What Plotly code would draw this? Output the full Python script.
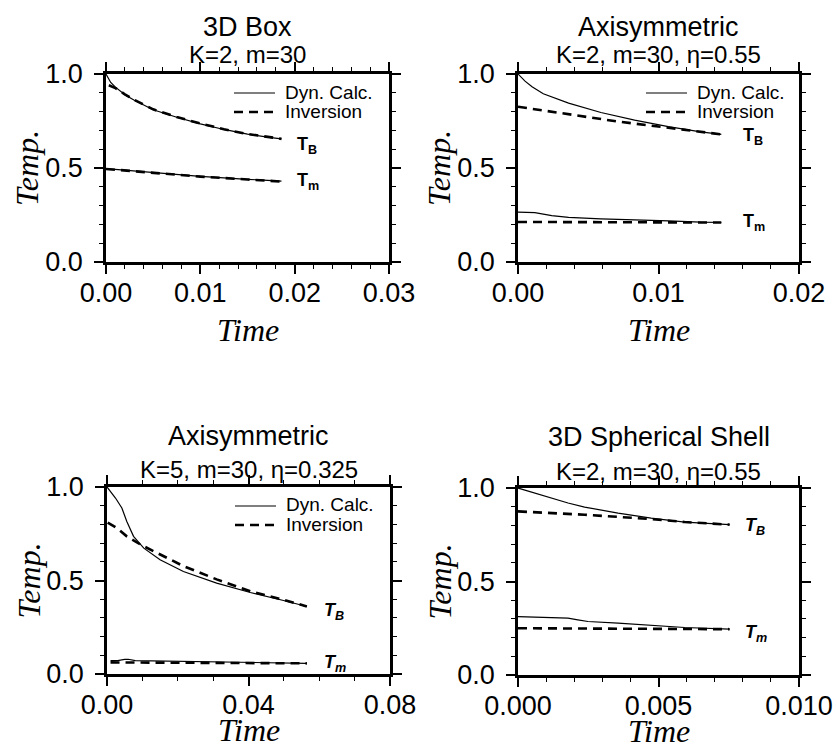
import plotly.graph_objects as go

# ---------------- DATA ----------------
# Panel 1: 3D Box, K=2, m=30
p1_t_dyn_B = [0, 0.0005, 0.001, 0.002, 0.003, 0.005, 0.0075, 0.01, 0.0125, 0.015, 0.0175, 0.0186]
p1_v_dyn_B = [1.0, 0.955, 0.93, 0.89, 0.86, 0.81, 0.77, 0.735, 0.705, 0.68, 0.662, 0.655]
p1_t_inv_B = [0.0003, 0.001, 0.002, 0.003, 0.005, 0.0075, 0.01, 0.0125, 0.015, 0.0175, 0.0186]
p1_v_inv_B = [0.94, 0.925, 0.892, 0.862, 0.812, 0.771, 0.737, 0.706, 0.681, 0.662, 0.655]
p1_t_dyn_m = [0, 0.005, 0.01, 0.015, 0.0186]
p1_v_dyn_m = [0.497, 0.475, 0.455, 0.44, 0.43]
p1_t_inv_m = [0, 0.005, 0.01, 0.015, 0.0186]
p1_v_inv_m = [0.495, 0.473, 0.454, 0.439, 0.428]

# Panel 2: Axisymmetric, K=2, m=30, eta=0.55
p2_t_dyn_B = [0, 0.0005, 0.001, 0.0018, 0.0036, 0.0059, 0.0083, 0.0107, 0.013, 0.01447]
p2_v_dyn_B = [1.0, 0.962, 0.932, 0.895, 0.845, 0.795, 0.755, 0.72, 0.692, 0.679]
p2_t_inv_B = [0, 0.0036, 0.0071, 0.0107, 0.01447]
p2_v_inv_B = [0.826, 0.785, 0.747, 0.714, 0.679]
p2_t_dyn_m = [0, 0.0012, 0.0024, 0.0036, 0.0059, 0.0083, 0.0107, 0.013, 0.01447]
p2_v_dyn_m = [0.265, 0.263, 0.247, 0.237, 0.229, 0.225, 0.219, 0.212, 0.21]
p2_t_inv_m = [0, 0.005, 0.01, 0.01447]
p2_v_inv_m = [0.213, 0.212, 0.211, 0.21]

# Panel 3: Axisymmetric, K=5, m=30, eta=0.325
p3_t_dyn_B = [0, 0.0024, 0.0042, 0.0056, 0.0075, 0.0104, 0.015, 0.0216, 0.031, 0.0405, 0.0499, 0.0565]
p3_v_dyn_B = [1.0, 0.941, 0.888, 0.816, 0.736, 0.673, 0.611, 0.548, 0.486, 0.436, 0.393, 0.361]
p3_t_inv_B = [0.0002, 0.0028, 0.0056, 0.0094, 0.0141, 0.0216, 0.031, 0.0405, 0.0499, 0.0565]
p3_v_inv_B = [0.81, 0.78, 0.736, 0.693, 0.648, 0.577, 0.506, 0.443, 0.397, 0.361]
p3_t_dyn_m = [0.001, 0.003, 0.005, 0.006, 0.008, 0.02, 0.04, 0.0565]
p3_v_dyn_m = [0.071, 0.072, 0.078, 0.079, 0.072, 0.068, 0.062, 0.057]
p3_t_inv_m = [0.001, 0.02, 0.04, 0.0565]
p3_v_inv_m = [0.062, 0.06, 0.058, 0.057]

# Panel 4: 3D Spherical Shell, K=2, m=30, eta=0.55
p4_t_dyn_B = [0, 0.00059, 0.00119, 0.00178, 0.00237, 0.00356, 0.00474, 0.00593, 0.00753]
p4_v_dyn_B = [1.0, 0.973, 0.946, 0.92, 0.898, 0.866, 0.839, 0.818, 0.804]
p4_t_inv_B = [0, 0.00237, 0.00474, 0.00593, 0.00753]
p4_v_inv_B = [0.875, 0.857, 0.834, 0.818, 0.804]
p4_t_dyn_m = [0, 0.00178, 0.00213, 0.00249, 0.00356, 0.00474, 0.00593, 0.00753]
p4_v_dyn_m = [0.3125, 0.304, 0.295, 0.286, 0.277, 0.264, 0.254, 0.245]
p4_t_inv_m = [0, 0.004, 0.00753]
p4_v_inv_m = [0.25, 0.249, 0.245]

titles = ["3D Box", "Axisymmetric", "Axisymmetric", "3D Spherical Shell"]
subtitles = ["K=2, m=30", "K=2, m=30, η=0.55", "K=5, m=30, η=0.325", "K=2, m=30, η=0.55"]
x_ranges = [[0, 0.03], [0, 0.02], [0, 0.08], [0, 0.010]]
x_major = [0.01, 0.01, 0.04, 0.005]
x_minor = [0.002, 0.002, 0.01, 0.001]
x_fmt = [".2f", ".2f", ".2f", ".3f"]
label_TB = ["<b>T<sub>B</sub></b>", "<b>T<sub>B</sub></b>", "<b><i>T<sub>B</sub></i></b>", "<b><i>T<sub>B</sub></i></b>"]
label_Tm = ["<b>T<sub>m</sub></b>", "<b>T<sub>m</sub></b>", "<b><i>T<sub>m</sub></i></b>", "<b><i>T<sub>m</sub></i></b>"]
label_TB_pos = [(0.0200, 0.62), (0.0159, 0.67), (0.0607, 0.334), (0.0080, 0.795)]
label_Tm_pos = [(0.0200, 0.426), (0.0159, 0.208), (0.0607, 0.057), (0.0080, 0.223)]
legend_labels = ["Dyn. Calc.", "Inversion"]
has_legend = [True, True, True, False]

panels = [
    (p1_t_dyn_B, p1_v_dyn_B, p1_t_inv_B, p1_v_inv_B, p1_t_dyn_m, p1_v_dyn_m, p1_t_inv_m, p1_v_inv_m),
    (p2_t_dyn_B, p2_v_dyn_B, p2_t_inv_B, p2_v_inv_B, p2_t_dyn_m, p2_v_dyn_m, p2_t_inv_m, p2_v_inv_m),
    (p3_t_dyn_B, p3_v_dyn_B, p3_t_inv_B, p3_v_inv_B, p3_t_dyn_m, p3_v_dyn_m, p3_t_inv_m, p3_v_inv_m),
    (p4_t_dyn_B, p4_v_dyn_B, p4_t_inv_B, p4_v_inv_B, p4_t_dyn_m, p4_v_dyn_m, p4_t_inv_m, p4_v_inv_m),
]

# ---------------- LAYOUT ----------------
W, H = 837, 751
# pixel boxes (left, right, top, bottom)
boxes = [(106, 389, 74, 262), (518, 799, 74, 262), (107, 390, 487, 674), (518, 799, 488, 675)]
# vertical offsets (px) of title, subtitle (above top) and "Time" (below bottom)
title_off = [47, 47, 51, 51]
sub_off = [19, 19, 17, 17]
time_off = [68, 68, 56, 56]

SANS = "Liberation Sans, Arial, Helvetica, sans-serif"
SERIF = "Liberation Serif, Times New Roman, serif"

SOLID_W = 1.2
DASH_W = 2.6
DASH = "9px,6px"

fig = go.Figure()
layout = dict(
    width=W, height=H, margin=dict(l=0, r=0, t=0, b=0, autoexpand=False),
    paper_bgcolor="white", plot_bgcolor="white",
    font=dict(family=SANS, color="black"),
    showlegend=False,
    annotations=[], shapes=[],
)

solid = dict(color="black", width=SOLID_W)
dashed = dict(color="black", width=DASH_W, dash=DASH)

for i, (p, box) in enumerate(zip(panels, boxes)):
    xa = "x" if i == 0 else f"x{i+1}"
    ya = "y" if i == 0 else f"y{i+1}"
    tdb, vdb, tib, vib, tdm, vdm, tim, vim = p
    common = dict(xaxis=xa, yaxis=ya, mode="lines", hoverinfo="skip", showlegend=False)
    fig.add_trace(go.Scatter(x=tdb, y=vdb, line=solid, name="Dyn. Calc.", **common))
    fig.add_trace(go.Scatter(x=tib, y=vib, line=dashed, name="Inversion", **common))
    fig.add_trace(go.Scatter(x=tdm, y=vdm, line=solid, name="Dyn. Calc.", **common))
    fig.add_trace(go.Scatter(x=tim, y=vim, line=dashed, name="Inversion", **common))

    l, r, t, b = box
    axname_x = "xaxis" if i == 0 else f"xaxis{i+1}"
    axname_y = "yaxis" if i == 0 else f"yaxis{i+1}"
    layout[axname_x] = dict(
        domain=[l / W, r / W], range=x_ranges[i], anchor=ya, automargin=False,
        tick0=0, dtick=x_major[i], tickformat=x_fmt[i],
        ticks="outside", ticklen=9, tickwidth=1.5, tickcolor="black",
        ticklabelstandoff=-4,
        showline=True, linewidth=2.5, linecolor="black", mirror="allticks",
        showgrid=False, zeroline=False,
        tickfont=dict(family=SANS, size=27, color="black"),
        minor=dict(dtick=x_minor[i], tick0=0, ticks="outside", ticklen=4, tickwidth=1.2, tickcolor="black", showgrid=False),
        fixedrange=True,
    )
    layout[axname_y] = dict(
        domain=[1 - b / H, 1 - t / H], range=[0, 1], anchor=xa, automargin=False,
        tick0=0, dtick=0.5, tickformat=".1f",
        ticks="outside", ticklen=9, tickwidth=1.5, tickcolor="black",
        ticklabelstandoff=6,
        showline=True, linewidth=2.5, linecolor="black", mirror="allticks",
        showgrid=False, zeroline=False,
        tickfont=dict(family=SANS, size=27, color="black"),
        minor=dict(dtick=0.1, tick0=0, ticks="outside", ticklen=4, tickwidth=1.2, tickcolor="black", showgrid=False),
        fixedrange=True,
    )
    cx = (l + r) / 2 / W
    # titles
    layout["annotations"].append(dict(
        text=titles[i], x=cx, y=1 - (t - title_off[i]) / H, xref="paper", yref="paper",
        xanchor="center", yanchor="middle", showarrow=False,
        font=dict(family=SANS, size=27, color="black")))
    layout["annotations"].append(dict(
        text=subtitles[i], x=cx, y=1 - (t - sub_off[i]) / H, xref="paper", yref="paper",
        xanchor="center", yanchor="middle", showarrow=False,
        font=dict(family=SANS, size=24, color="black")))
    # axis titles
    layout["annotations"].append(dict(
        text="<i>Time</i>", x=cx, y=1 - (b + time_off[i]) / H, xref="paper", yref="paper",
        xanchor="center", yanchor="middle", showarrow=False,
        font=dict(family=SERIF, size=32, color="black")))
    layout["annotations"].append(dict(
        text="<i>Temp.</i>", x=(l - 79) / W, y=1 - ((t + b) / 2) / H, xref="paper", yref="paper",
        xanchor="center", yanchor="middle", showarrow=False, textangle=-90,
        font=dict(family=SERIF, size=32, color="black")))
    # curve labels
    for txt, (px, py) in ((label_TB[i], label_TB_pos[i]), (label_Tm[i], label_Tm_pos[i])):
        layout["annotations"].append(dict(
            text=txt, x=px, y=py, xref=xa, yref=ya, xanchor="left", yanchor="middle",
            showarrow=False, font=dict(family=SANS, size=18, color="black")))
    # legend (key) inside panel
    if has_legend[i]:
        x0 = l + 128
        for k, (lab, style) in enumerate(zip(legend_labels, (solid, dashed))):
            yy = t + 19 + 19 * k
            layout["shapes"].append(dict(
                type="line", xref="paper", yref="paper",
                x0=x0 / W, x1=(x0 + 41) / W, y0=1 - yy / H, y1=1 - yy / H,
                line=dict(color="black", width=style["width"], dash=style.get("dash", "solid"))))
            layout["annotations"].append(dict(
                text=lab, x=(x0 + 49) / W, y=1 - (yy - 1) / H, xref="paper", yref="paper",
                xanchor="left", yanchor="middle", showarrow=False,
                font=dict(family=SANS, size=19, color="black")))

fig.update_layout(**layout)
fig.write_html("out.html")
